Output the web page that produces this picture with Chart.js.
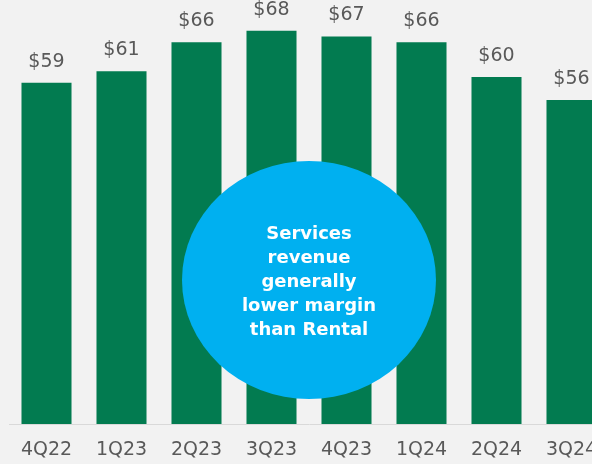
<!DOCTYPE html>
<html>
<head>
<meta charset="utf-8">
<script src="https://cdn.jsdelivr.net/npm/chart.js@4/dist/chart.umd.min.js"></script>
<style>
html, body { margin:0; padding:0; background:#f2f2f2; overflow:hidden; }
#wrap { width:620px; height:464px; }
</style>
</head>
<body>
<div id="wrap"><canvas id="chart" width="620" height="464"></canvas></div>
<script>
// quarterly services revenue ($M)
const quarters = ["4Q22","1Q23","2Q23","3Q23","4Q23","1Q24","2Q24","3Q24"];
const revenue = [59, 61, 66, 68, 67, 66, 60, 56];
const calloutLines = ["Services", "revenue", "generally", "lower margin", "than Rental"];

const labelFont = "DejaVu Sans";

// "$59" style labels over each bar
const valueLabels = {
  id: "valueLabels",
  afterDatasetsDraw(c){
    const ctx = c.ctx;
    const meta = c.getDatasetMeta(0);
    ctx.save();
    ctx.fillStyle = "#595959";
    ctx.font = "19px " + labelFont;
    ctx.textAlign = "center";
    ctx.textBaseline = "middle";
    meta.data.forEach((bar, i) => {
      ctx.fillText("$" + revenue[i], bar.x, bar.y - 21);
    });
    ctx.restore();
  }
};

// blue callout bubble on top of the bars
const callout = {
  id: "callout",
  afterDraw(c){
    const ctx = c.ctx;
    const cx = 309, cy = 280;
    ctx.save();
    ctx.fillStyle = "#00b0f0";
    ctx.beginPath();
    ctx.ellipse(cx, cy, 127, 119, 0, 0, Math.PI * 2);
    ctx.fill();
    ctx.fillStyle = "#ffffff";
    ctx.font = "bold 18px " + labelFont;
    ctx.textAlign = "center";
    ctx.textBaseline = "middle";
    const step = 24;
    const top = 234;
    calloutLines.forEach((t, i) => ctx.fillText(t, cx, top + i * step));
    ctx.restore();
  }
};

new Chart(document.getElementById("chart"), {
  type: "bar",
  data: {
    labels: quarters,
    datasets: [{
      data: revenue,
      backgroundColor: "#027b50",
      categoryPercentage: 1,
      barPercentage: 0.667
    }]
  },
  options: {
    responsive: false,
    animation: false,
    layout: { padding: { left: 9, right: 11, top: 0, bottom: 0 } },
    plugins: {
      legend: { display: false },
      tooltip: { enabled: false }
    },
    scales: {
      x: {
        grid: { display: false, drawTicks: false },
        border: { display: true, color: "#d9d9d9", width: 1 },
        ticks: { color: "#595959", font: { family: labelFont, size: 19 }, padding: 15 },
        afterFit(s){ s.height = 40; }
      },
      y: {
        display: false,
        min: 0,
        max: 73.3
      }
    }
  },
  plugins: [valueLabels, callout]
});
</script>
</body>
</html>
